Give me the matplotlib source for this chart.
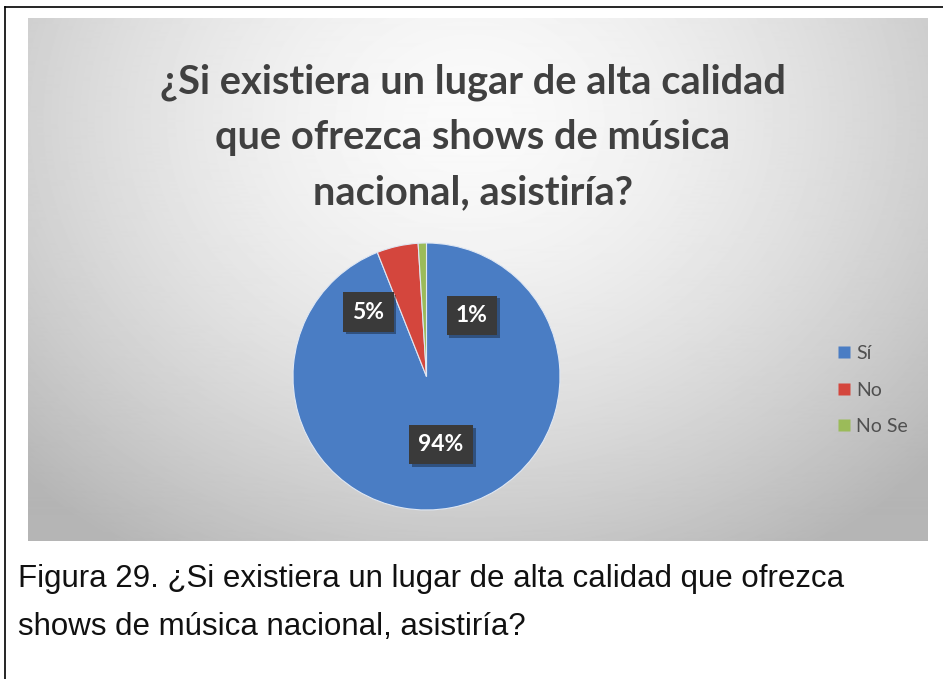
import numpy as np
import matplotlib

matplotlib.use("Agg")
import matplotlib.pyplot as plt
import matplotlib.patheffects as pe
from matplotlib.lines import Line2D

TITLE = "¿Si existiera un lugar de alta calidad\nque ofrezca shows de música\nnacional, asistiría?"
CAPTION = ("Figura 29. ¿Si existiera un lugar de alta calidad que ofrezca\n"
           "shows de música nacional, asistiría?")

categories = ["Sí", "No", "No Se"]
shares = [94, 5, 1]
slice_colors = ["#4a7dc4", "#d4463d", "#9bbb59"]
# where each data label sits: angle in degrees, distance as a fraction of the radius
label_spots = [(-78, 0.52), (132, 0.65), (53.5, 0.57)]

W, H = 943, 679
fig = plt.figure(figsize=(W / 100, H / 100), dpi=100)


def px_axes(x0, y0, x1, y1):
    """Axes from a pixel box measured from the top-left corner."""
    return fig.add_axes([x0 / W, 1 - y1 / H, (x1 - x0) / W, (y1 - y0) / H])


# chart area with a soft radial light-grey gradient
bg = px_axes(28, 18, 928, 541)
yy, xx = np.mgrid[18:541, 28:928]
d = np.sqrt(((xx - 470) / 520.0) ** 2 + ((yy - 120) / 430.0) ** 2)
shade = (250 - 52 * np.clip(d, 0, 1.2) ** 1.6) / 255.0
bg.imshow(shade, cmap="gray", vmin=0, vmax=1, aspect="auto", interpolation="bilinear")
bg.set_axis_off()

fig.text(473 / W, 1 - 137 / H, TITLE, ha="center", va="center", fontsize=28.7,
         fontweight="bold", family="Lato", color="#404040", linespacing=1.6)

# pie
cx, cy, r = 426.5, 376.5, 133.5
ax = px_axes(cx - r, cy - r, cx + r, cy + r)
ax.pie(shares, colors=slice_colors, startangle=90, counterclock=False,
       wedgeprops=dict(edgecolor="#dfe7f3", linewidth=0.8))
ax.set_xlim(-1, 1)
ax.set_ylim(-1, 1)
ax.set_axis_off()

for value, (ang, dist) in zip(shares, label_spots):
    t = np.deg2rad(ang)
    txt = ax.text(dist * np.cos(t), dist * np.sin(t), f"{value}%", ha="center", va="center",
                  fontsize=16.5, fontweight="bold", family="Lato", color="white",
                  bbox=dict(boxstyle="square,pad=0.4", facecolor="#3a3a3a", edgecolor="none"))
    txt.get_bbox_patch().set_path_effects(
        [pe.SimplePatchShadow(offset=(2, -2), shadow_rgbFace="k", alpha=0.35), pe.Normal()])

handles = [Line2D([], [], marker="s", linestyle="none", markersize=8,
                  markerfacecolor=c, markeredgecolor="none") for c in slice_colors]
fig.legend(handles, categories, loc="center left", bbox_to_anchor=(819 / W, 1 - 390 / H),
           frameon=False, labelspacing=1.0, handletextpad=0.2, handlelength=0.8,
           prop=dict(family="Lato", size=14), labelcolor="#505050")

fig.text(18 / W, 1 - 603 / H, CAPTION, ha="left", va="center", fontsize=22.5,
         family="Liberation Sans", color="#111111", linespacing=1.8)

# page frame
fig.add_artist(Line2D([5 / W, 1], [1 - 7 / H, 1 - 7 / H], transform=fig.transFigure,
                      color="black", linewidth=1.2))
fig.add_artist(Line2D([5 / W, 5 / W], [0, 1 - 7 / H], transform=fig.transFigure,
                      color="black", linewidth=1.2))

fig.savefig("out.png", dpi=100)
